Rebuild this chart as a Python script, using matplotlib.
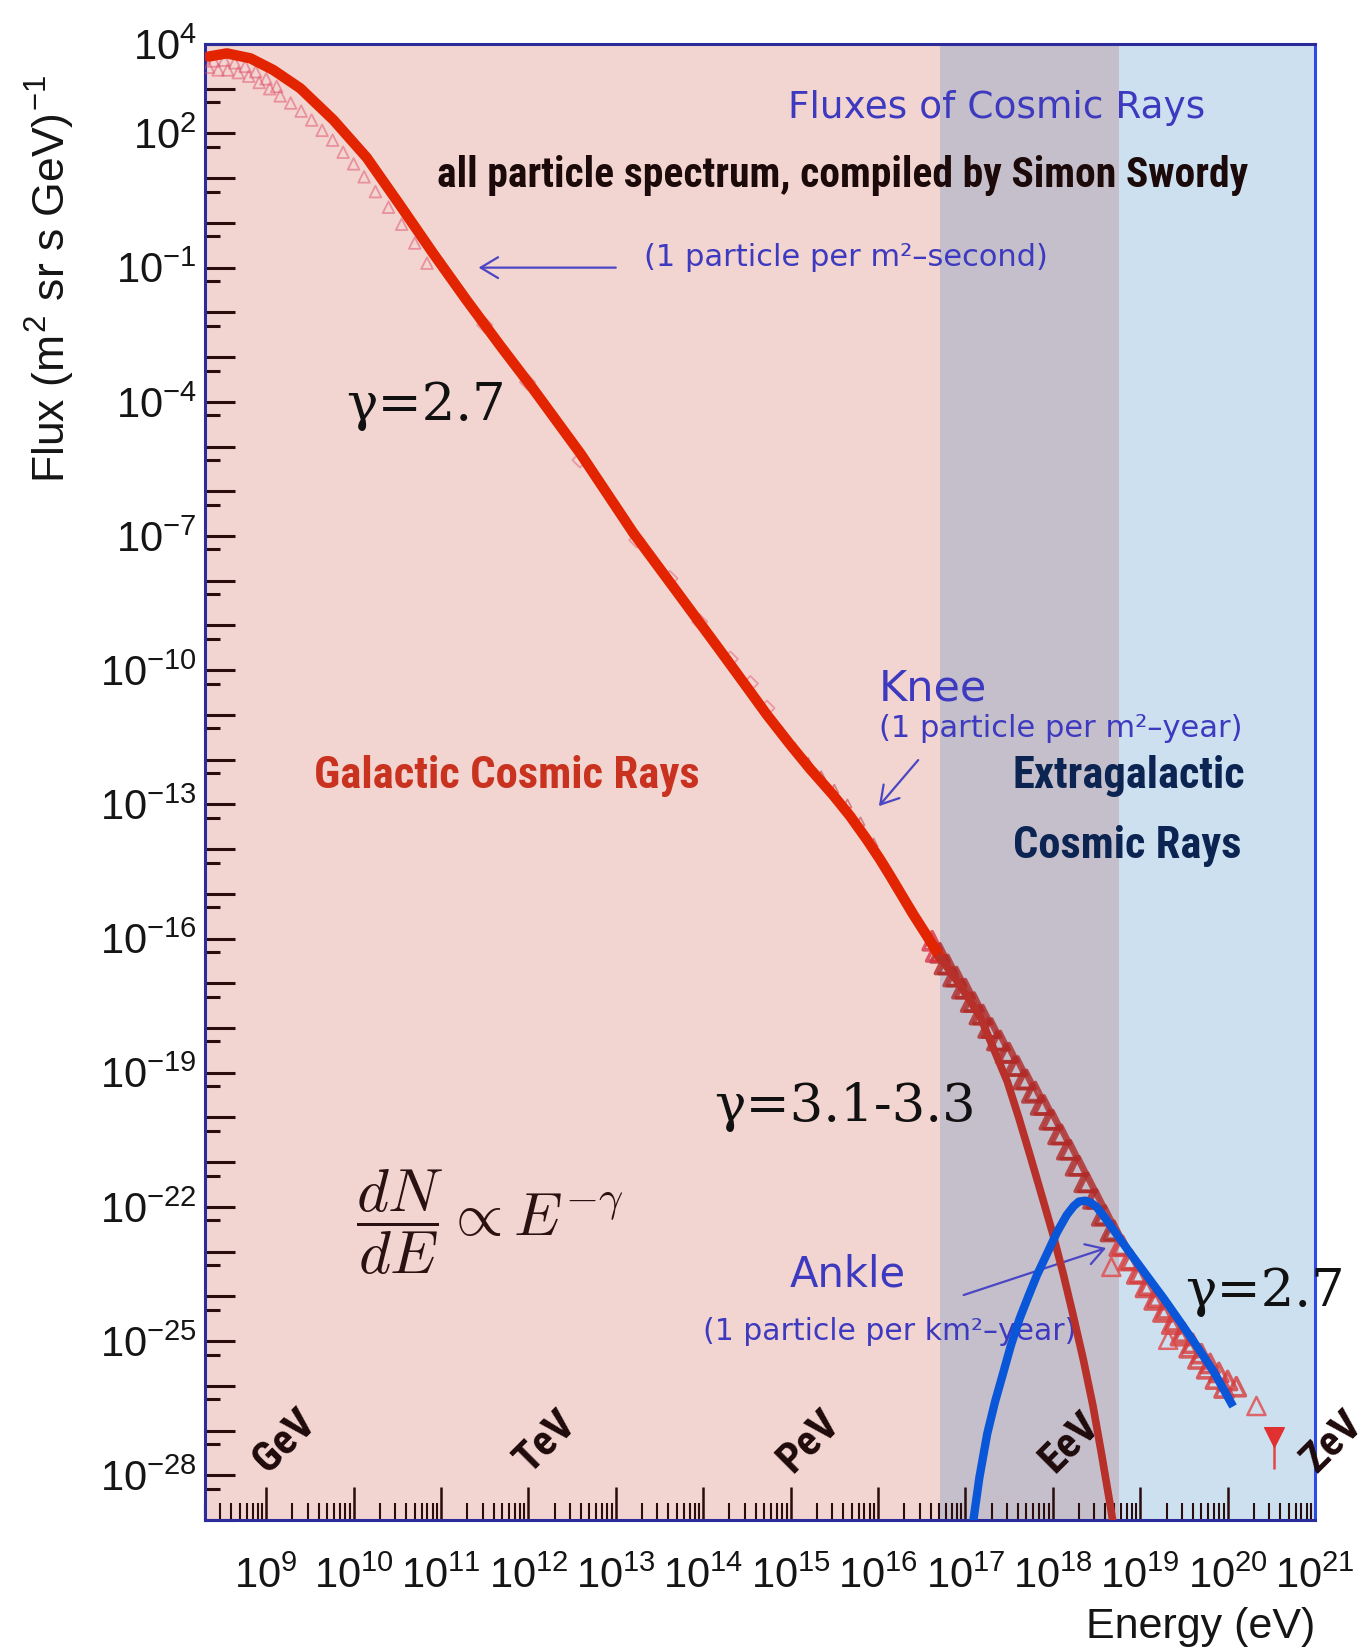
import numpy as np
import matplotlib.pyplot as plt
import matplotlib.transforms as mtransforms
from matplotlib import font_manager
from matplotlib.ticker import LogLocator, NullFormatter

# 字体设置
plt.rcParams['font.family'] = ['Liberation Sans', 'DejaVu Sans']
plt.rcParams['mathtext.fontset'] = 'cm'
installed = {f.name for f in font_manager.fontManager.ttflist}
narrow_cands = ['Liberation Sans Narrow', 'DejaVu Sans Condensed', 'Roboto Condensed',
                'Open Sans Condensed', 'Roboto', 'DejaVu Sans']
narrow = next(c for c in narrow_cands if c in installed)

# 银河宇宙线拟合曲线 (log10 E[eV], log10 flux)
gal_log_e = [8.34, 8.55, 8.82, 9.08, 9.39, 9.77, 10.15, 10.53, 10.91, 11.29, 11.68,
             12.05, 12.60, 13.20, 13.70, 14.19, 14.50, 14.73, 14.99, 15.22, 15.49,
             15.68, 15.87, 16.02, 16.14, 16.25, 16.40, 16.56, 16.71]
gal_log_f = [3.72, 3.79, 3.68, 3.42, 3.01, 2.30, 1.46, 0.40, -0.68, -1.72, -2.75,
             -3.70, -5.17, -6.93, -8.25, -9.55, -10.38, -11.00, -11.65, -12.20, -12.80,
             -13.26, -13.78, -14.22, -14.60, -14.96, -15.45, -15.94, -16.42]

# 截断部分
cut_log_e = [16.71, 16.94, 17.17, 17.32, 17.48, 17.61, 17.74, 17.87, 18.00, 18.12,
             18.23, 18.35, 18.46, 18.56, 18.66, 18.70]
cut_log_f = [-16.42, -17.05, -17.75, -18.45, -19.20, -20.00, -20.85, -21.72, -22.60, -23.50,
             -24.40, -25.42, -26.45, -27.55, -28.70, -29.20]

# 河外宇宙线
xgal_log_e = [17.07, 17.16, 17.25, 17.34, 17.43, 17.52, 17.62, 17.72, 17.82, 17.94,
              18.05, 18.16, 18.24, 18.30, 18.37, 18.43, 18.50, 18.60, 18.69, 18.88,
              19.08, 19.27, 19.46, 19.65, 19.84, 20.04]
xgal_log_f = [-29.30, -28.05, -27.07, -26.35, -25.73, -25.10, -24.50, -24.00, -23.52, -23.02,
              -22.56, -22.18, -21.98, -21.88, -21.86, -21.90, -22.00, -22.25, -22.50, -23.02,
              -23.55, -24.05, -24.58, -25.12, -25.68, -26.38]

# 测量数据点
low_log_e = [8.34, 8.45, 8.56, 8.68, 8.80, 8.92, 9.04, 9.16, 9.28, 9.40, 9.52, 9.64,
             9.76, 9.88, 10.00, 10.12, 10.25, 10.40, 10.55, 10.70, 10.84,
             8.40, 8.52, 8.64, 8.76, 8.88, 9.00, 9.12]
low_log_f = [3.48, 3.42, 3.42, 3.36, 3.28, 3.14, 3.00, 2.84, 2.68, 2.50, 2.30, 2.07,
             1.85, 1.58, 1.32, 1.03, 0.70, 0.35, -0.03, -0.45, -0.90,
             3.62, 3.64, 3.58, 3.50, 3.38, 3.22, 3.05]
mid_log_e = [11.50, 11.99, 12.59, 13.24, 13.62, 13.96, 14.31, 14.54, 14.73]
mid_log_f = [-2.28, -3.56, -5.30, -7.09, -7.95, -8.92, -9.75, -10.30, -10.85]
knee_log_e = [14.90, 15.05, 15.20, 15.35, 15.50, 15.65, 15.80, 15.95, 16.10, 16.25, 16.40, 16.52]
knee_log_f = [-11.35, -11.72, -12.05, -12.35, -12.65, -12.98, -13.38, -13.85, -14.38, -14.88,
              -15.36, -15.75]
band_log_e = [16.62, 16.71, 16.80, 16.90, 17.00, 17.10, 17.20, 17.30, 17.40, 17.50, 17.60,
              17.70, 17.80, 17.90, 18.00, 18.10, 18.20, 18.30, 18.40, 18.50, 18.60, 18.70,
              18.80, 18.90, 19.00, 19.10, 19.20, 19.30, 19.40, 19.50, 19.60, 19.70, 19.80,
              19.90, 20.00, 20.10,
              16.66, 16.76, 16.86, 16.96, 17.06, 17.16, 17.26, 17.36, 17.46, 17.56, 17.66,
              17.76, 17.86, 17.96, 18.06, 18.16, 18.26, 18.36, 18.46, 18.56, 18.66, 18.76,
              18.86, 18.96, 19.06, 19.16, 19.26, 19.36, 19.46, 19.56, 19.66, 19.76, 19.86,
              19.96]
band_log_f = [-16.05, -16.32, -16.58, -16.85, -17.12, -17.42, -17.70, -18.00, -18.28, -18.55,
              -18.85, -19.15, -19.42, -19.72, -20.05, -20.38, -20.72, -21.08, -21.45, -21.82,
              -22.18, -22.52, -22.86, -23.18, -23.48, -23.75, -24.02, -24.28, -24.55, -24.80,
              -25.05, -25.28, -25.50, -25.70, -25.88, -26.02,
              -16.30, -16.58, -16.85, -17.12, -17.42, -17.70, -18.00, -18.28, -18.56, -18.85,
              -19.15, -19.45, -19.72, -20.05, -20.38, -20.72, -21.08, -21.45, -21.82, -22.20,
              -22.55, -22.88, -23.20, -23.50, -23.80, -24.08, -24.35, -24.62, -24.88, -25.15,
              -25.40, -25.62, -25.85, -26.05]
out_log_e = [18.67, 19.32, 20.33]
out_log_f = [-23.34, -24.97, -26.45]
last_log_e = [20.53]
last_log_f = [-27.14]
last_err_low = [-27.86]

band_edges = [16.71, 18.76]
x_exps = list(range(9, 22))
y_label_exps = [4, 2, -1, -4, -7, -10, -13, -16, -19, -22, -25, -28]
unit_names = ['GeV', 'TeV', 'PeV', 'EeV', 'ZeV']
unit_exps = [9, 12, 15, 18, 21]


def p(v):
    return 10.0 ** np.asarray(v, dtype=float)


fig = plt.figure(figsize=(13.69, 16.51), dpi=100)
ax = fig.add_axes([205 / 1369, 131 / 1651, 1110 / 1369, 1476 / 1651])
ax.set_xscale('log')
ax.set_yscale('log')
ax.set_xlim(10 ** 8.3, 1e21)
ax.set_ylim(1e-29, 1e4)
renderer = fig.canvas.get_renderer()


def fit_width(txt, width_px):
    # 按目标宽度调整字号
    w = txt.get_window_extent(renderer).width
    k = width_px / w
    txt.set_fontsize(txt.get_fontsize() * k)
    return k


# 背景分区
ax.set_facecolor('#F2D4D0')
ax.axvspan(p(band_edges[0]), p(band_edges[1]), color='#C5BFCC', lw=0, zorder=0.5)
ax.axvspan(p(band_edges[1]), 1e21, color='#CDE0F0', lw=0, zorder=0.5)

# 数据点
ax.scatter(p(low_log_e), p(low_log_f), marker='^', s=70, facecolors='none',
           edgecolors='#E0506A', linewidths=1.3, alpha=0.5, zorder=3)
ax.scatter(p(mid_log_e), p(mid_log_f), marker='D', s=60, facecolors='none',
           edgecolors='#E0506A', linewidths=1.3, alpha=0.45, zorder=3)
ax.scatter(p(knee_log_e), p(knee_log_f), marker='^', s=35, facecolors='none',
           edgecolors='#C04050', linewidths=1.2, alpha=0.6, zorder=3)
region = np.digitize(band_log_e, band_edges)
band_cols = np.array(['#D8344A', '#B02A28', '#D63C3C'])[region]
ax.scatter(p(band_log_e), p(band_log_f), marker='^', s=170, facecolors='none',
           edgecolors=band_cols, linewidths=2.6, alpha=0.8, zorder=3)
ax.scatter(p(out_log_e), p(out_log_f), marker='^', s=170, facecolors='none',
           edgecolors='#E04848', linewidths=1.8, alpha=0.8, zorder=3)
ax.vlines(p(last_log_e), p(last_err_low), p(last_log_f), color='#E04848', lw=1.8, zorder=3)
ax.scatter(p(last_log_e), p(last_log_f), marker='v', s=200, color='#E03030', zorder=3)

# 拟合曲线
ax.plot(p(gal_log_e), p(gal_log_f), color='#E32400', lw=7.5, solid_capstyle='round',
        solid_joinstyle='round', zorder=5)
ax.plot(p(cut_log_e), p(cut_log_f), color='#B8302A', lw=5.5, solid_joinstyle='round', zorder=5)
ax.plot(p(xgal_log_e), p(xgal_log_f), color='#0A56D8', lw=6, solid_joinstyle='round', zorder=6)

# 坐标轴
ax.set_xticks(p(x_exps), [rf'$\mathregular{{10^{{{e}}}}}$' for e in x_exps])
ax.xaxis.set_minor_locator(LogLocator(base=10, subs=np.arange(2, 10), numticks=100))
ax.xaxis.set_minor_formatter(NullFormatter())
y_all = np.arange(-29, 5)
ax.set_yticks(p(y_all), [rf'$\mathregular{{10^{{{e}}}}}$' if e in y_label_exps else ''
                         for e in y_all])
ax.yaxis.set_minor_locator(LogLocator(base=10, subs=[5.0], numticks=100))
ax.yaxis.set_minor_formatter(NullFormatter())

ax.tick_params(axis='x', which='major', direction='in', length=24, width=1.8,
               color='#2a0c0c', pad=26, labelsize=30, labelcolor='#151515')
ax.tick_params(axis='x', which='minor', direction='in', length=12, width=1.5, color='#2a0c0c')
ax.tick_params(axis='y', which='major', direction='in', length=21.5, width=2.2,
               color='#2a0c0c', pad=6, labelsize=30, labelcolor='#151515')
ax.tick_params(axis='y', which='minor', direction='in', length=10.5, width=2.2, color='#2a0c0c')
ax.tick_params(top=False, right=False, which='both')

for spine in ax.spines.values():
    spine.set_color('#2b2b9c')
    spine.set_linewidth(2.2)
ax.spines['right'].set_color('#2f4ae8')

ax.text(1.0, -0.0725, 'Energy (eV)', transform=ax.transAxes, ha='right', va='center',
        fontsize=31, color='#151515')
ax.text(-0.1396, 0.8408, r'Flux (m$^{\mathregular{2}}$ sr s GeV)$^{\mathregular{-1}}$',
        transform=ax.transAxes, rotation=90, ha='center', va='center', fontsize=32,
        color='#151515')

# 标题与区域文字 (窄粗体)
head = ax.text(p(15.60), p(1.05), 'all particle spectrum, compiled by Simon Swordy',
               ha='center', va='center', fontsize=30, fontweight='bold', family=narrow,
               color='#1c0a0a')
k_narrow = fit_width(head, 810)
gal_txt = ax.text(p(9.55), p(-12.36), 'Galactic Cosmic Rays', ha='left', va='center',
                  fontsize=32, fontweight='bold', family=narrow, color='#C8321E')
fit_width(gal_txt, 386)
ext_txt = ax.text(p(17.54), p(-12.36), 'Extragalactic', ha='left', va='center', fontsize=32,
                  fontweight='bold', family=narrow, color='#0B2452')
fit_width(ext_txt, 233)
ax.text(p(17.54), p(-13.93), 'Cosmic Rays', ha='left', va='center',
        fontsize=ext_txt.get_fontsize(), fontweight='bold', family=narrow, color='#0B2452')

# 能量单位
trans = mtransforms.blended_transform_factory(ax.transData, ax.transAxes)
for name, e in zip(unit_names, unit_exps):
    ax.text(p(e + 0.02), 0.031, name, transform=trans, rotation=45, rotation_mode='anchor',
            ha='left', va='baseline', fontsize=31 * k_narrow, fontweight='bold', family=narrow,
            color='#1e0a0a', clip_on=False)

# 标注文字
blue = '#3d3abf'
ax.text(p(17.36), p(2.56), 'Fluxes of Cosmic Rays', ha='center', va='center',
        fontsize=27, color=blue, family='DejaVu Sans')
ax.text(p(13.32), p(-0.78), '(1 particle per m²–second)', ha='left', va='center',
        fontsize=22, color=blue, family='DejaVu Sans')
ax.text(p(16.01), p(-10.40), 'Knee', ha='left', va='center', fontsize=31, color=blue,
        family='DejaVu Sans')
ax.text(p(16.01), p(-11.31), '(1 particle per m²–year)', ha='left', va='center',
        fontsize=22, color=blue, family='DejaVu Sans')
ax.text(p(14.99), p(-23.50), 'Ankle', ha='left', va='center', fontsize=30, color=blue,
        family='DejaVu Sans')
ax.text(p(14.00), p(-24.79), '(1 particle per km²–year)', ha='left', va='center',
        fontsize=21.5, color=blue, family='DejaVu Sans')

arrow = dict(arrowstyle='->,head_length=0.5,head_width=0.3', color='#4b47c4', lw=1.6,
             mutation_scale=25, shrinkA=0, shrinkB=0)
ax.annotate('', xy=(p(11.43), p(-1.0)), xytext=(p(13.0), p(-1.0)), arrowprops=arrow)
ax.annotate('', xy=(p(16.01), p(-13.04)), xytext=(p(16.46), p(-12.01)), arrowprops=arrow)
ax.annotate('', xy=(p(18.61), p(-22.92)), xytext=(p(16.98), p(-23.97)), arrowprops=arrow)

ax.text(p(9.92), p(-4.41), 'γ=2.7', ha='left', va='baseline', fontsize=38,
        family='DejaVu Serif', color='#111111')
ax.text(p(14.12), p(-20.09), 'γ=3.1-3.3', ha='left', va='baseline', fontsize=38,
        family='DejaVu Serif', color='#111111')
ax.text(p(19.51), p(-24.21), 'γ=2.7', ha='left', va='baseline', fontsize=38,
        family='DejaVu Serif', color='#111111', clip_on=False)
ax.text(p(10.03), p(-22.34), r'$\dfrac{dN}{dE} \propto E^{-\gamma}$', ha='left', va='center',
        fontsize=44, color='#2a1212')

fig.savefig('out.png', dpi=100)
